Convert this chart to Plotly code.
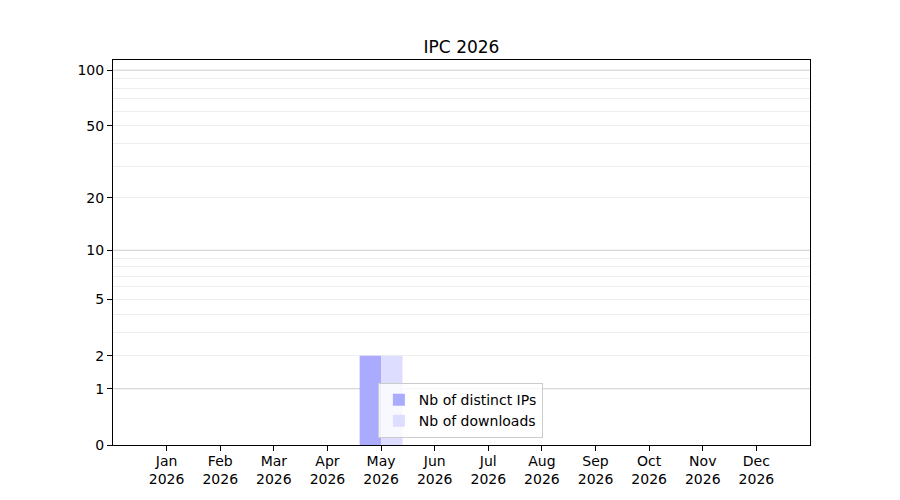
import numpy as np
import plotly.graph_objects as go

# monthly stats for 2026
months = ['Jan', 'Feb', 'Mar', 'Apr', 'May', 'Jun', 'Jul', 'Aug', 'Sep', 'Oct', 'Nov', 'Dec']
year = 2026
distinct_ips = [0, 0, 0, 0, 2, 0, 0, 0, 0, 0, 0, 0]
downloads = [0, 0, 0, 0, 2, 0, 0, 0, 0, 0, 0, 0]

y_ticks = [0, 1, 2, 5, 10, 20, 50, 100]
y_major_grid = [1, 10, 100]
y_minor_grid = [2, 3, 4, 5, 6, 7, 8, 9, 20, 30, 40, 50, 60, 70, 80, 90]


def tf(v):
    # symlog-like scale: log10(1 + v)
    return np.log10(1 + np.asarray(v, dtype=float))


x = list(range(len(months)))
tick_text = [f'{m}<br>{year}' for m in months]

fig = go.Figure()
fig.add_trace(go.Bar(
    x=x, y=tf(distinct_ips), name='Nb of distinct IPs',
    width=0.4, offset=-0.4, marker=dict(color='#aaaaff', line=dict(width=0)),
))
fig.add_trace(go.Bar(
    x=x, y=tf(downloads), name='Nb of downloads',
    width=0.4, offset=0.0, marker=dict(color='#ddddff', line=dict(width=0)),
))

for v in y_major_grid:
    fig.add_shape(type='line', xref='paper', yref='y', x0=0, x1=1,
                  y0=float(tf(v)), y1=float(tf(v)),
                  line=dict(color='#cccccc', width=1), layer='below')

# page body adds ~8px offset, so margins are shifted accordingly
fig.update_layout(
    width=900, height=500,
    margin=dict(l=105, r=98, t=52, b=63, autoexpand=False),
    paper_bgcolor='white', plot_bgcolor='white',
    barmode='overlay',
    font=dict(family='DejaVu Sans', size=14, color='black'),
    title=dict(text='IPC 2026', x=(105 + 802) / 2 / 900, xanchor='center',
               y=1 - 39 / 500, yanchor='middle', font=dict(size=17)),
    showlegend=True,
    legend=dict(x=0.38, y=0.018, xanchor='left', yanchor='bottom',
                bgcolor='rgba(255,255,255,0.8)', bordercolor='#cccccc', borderwidth=1,
                font=dict(size=14), tracegroupgap=0),
    xaxis=dict(
        range=[-1, 12], tickmode='array', tickvals=x, ticktext=tick_text,
        showgrid=False, zeroline=False, showline=True, linecolor='black', linewidth=1,
        mirror=True, ticks='outside', ticklen=5, tickcolor='black', automargin=False,
        ticklabelstandoff=-2,
    ),
    yaxis=dict(
        range=[0, 2.059], tickmode='array', tickvals=tf(y_ticks),
        ticktext=[str(t) for t in y_ticks],
        showgrid=False, zeroline=False, showline=True, linecolor='black', linewidth=1,
        mirror=True, ticks='outside', ticklen=5, tickcolor='black', automargin=False,
        minor=dict(tickmode='array', tickvals=tf(y_minor_grid), showgrid=True,
                   gridcolor='#eeeeee', gridwidth=1, ticks=''),
    ),
)

fig.write_html('out.html')
